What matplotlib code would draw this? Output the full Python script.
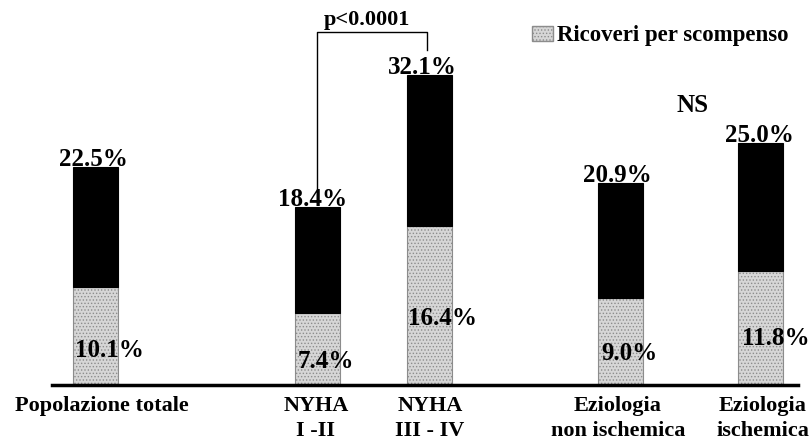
import numpy as np
import matplotlib.pyplot as plt
from matplotlib.patches import Patch

# data (percent)
categories = ['Popolazione totale', 'NYHA\nI -II', 'NYHA\nIII - IV',
              'Eziologia\nnon ischemica', 'Eziologia\nischemica']
totale = [22.5, 18.4, 32.1, 20.9, 25.0]
ricoveri_scompenso = [10.1, 7.4, 16.4, 9.0, 11.8]

# layout (x in pixel-like units)
bar_x = [95, 317, 429, 620, 760]
label_x = [102, 316, 430, 618, 763]
top_dx = [-2, -4, -7, -3, -1]
inner_dx = [14, 9, 14, 10, 16]
inner_y = [2.9, 1.75, 6.2, 2.6, 4.15]

plt.rcParams['font.family'] = ['Liberation Serif', 'DejaVu Serif']
plt.rcParams['font.weight'] = 'bold'
plt.rcParams['hatch.linewidth'] = 0.6

fig = plt.figure(figsize=(8.12, 4.41), dpi=100)
ax = fig.add_axes([52 / 812, 56 / 441, 746 / 812, 385 / 441])
ax.set_xlim(52, 798)
ax.set_ylim(0, 385 / 9.67)

fill = '#d6d6d6'
edge = '#8c8c8c'
ax.bar(bar_x, ricoveri_scompenso, width=45, color=fill, edgecolor=edge,
       hatch='.....', linewidth=0.8)
rest = [t - r for t, r in zip(totale, ricoveri_scompenso)]
ax.bar(bar_x, rest, bottom=ricoveri_scompenso, width=45, color='black',
       edgecolor='black', linewidth=0.8)

fs = 18
for i in range(len(bar_x)):
    ax.text(bar_x[i] + top_dx[i], totale[i] + 0.1, f'{totale[i]:.1f}%',
            ha='center', va='baseline', fontsize=fs, fontweight='bold')
    ax.text(bar_x[i] + inner_dx[i], inner_y[i], f'{ricoveri_scompenso[i]:.1f}%',
            ha='center', va='baseline', fontsize=fs, fontweight='bold')

# significance bracket
ax.plot([317, 317, 427, 427], [20.2, 36.5, 36.5, 34.6], color='black', lw=1)
ax.text(367, 37.2, 'p<0.0001', ha='center', va='baseline', fontsize=16,
        fontweight='bold')
ax.text(693, 28.2, 'NS', ha='center', va='baseline', fontsize=18,
        fontweight='bold')

for s in ['top', 'right', 'left']:
    ax.spines[s].set_visible(False)
ax.spines['bottom'].set_linewidth(2.5)
ax.set_yticks([])
ax.set_xticks(label_x)
ax.set_xticklabels(categories, fontsize=16, fontweight='bold',
                   linespacing=1.35, va='top')
ax.tick_params(axis='x', length=0, pad=8)

fig.legend(handles=[Patch(facecolor=fill, edgecolor=edge, hatch='.....',
                          label='Ricoveri per scompenso')],
           loc='center left', bbox_to_anchor=(532 / 812, 1 - 36 / 441),
           frameon=False, fontsize=16.5, handlelength=0.92,
           handleheight=0.65, handletextpad=0.18, borderpad=0,
           borderaxespad=0)

fig.savefig('out.png', dpi=100)
